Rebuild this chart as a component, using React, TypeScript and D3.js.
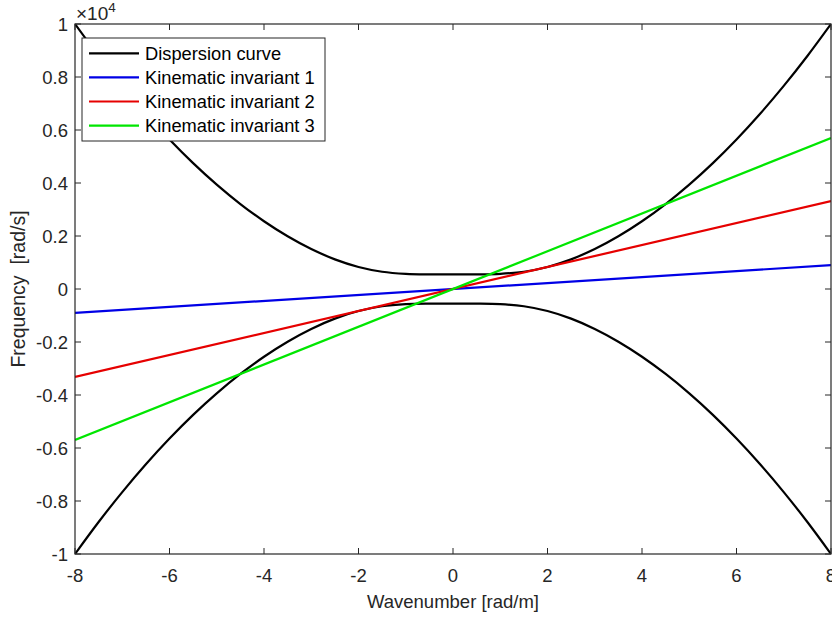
import React from "react";
import * as d3 from "d3";

// Wavenumber samples (rad/m)
const wavenumbers = [
  -8, -7.5, -7, -6.5, -6, -5.5, -5, -4.5, -4, -3.5, -3, -2.5, -2, -1.5, -1, -0.5, 0,
  0.5, 1, 1.5, 2, 2.5, 3, 3.5, 4, 4.5, 5, 5.5, 6, 6.5, 7, 7.5, 8,
];
// Dispersion curve, upper and lower branches (rad/s)
const dispersionUpper = [
  10000, 8792, 7664, 6614, 5643, 4751, 3939, 3207, 2556, 1989, 1508, 1119, 832, 652, 572, 551, 550,
  551, 572, 652, 832, 1119, 1508, 1989, 2556, 3207, 3939, 4751, 5643, 6614, 7664, 8792, 10000,
];
const dispersionLower = [
  -10000, -8792, -7664, -6614, -5643, -4751, -3939, -3207, -2556, -1989, -1508, -1119, -832, -652, -572, -551, -550,
  -551, -572, -652, -832, -1119, -1508, -1989, -2556, -3207, -3939, -4751, -5643, -6614, -7664, -8792, -10000,
];
// Kinematic invariants (straight lines through the origin)
const lineK = [-8, 8];
const invariant1 = [-900, 900];
const invariant2 = [-3320, 3320];
const invariant3 = [-5700, 5700];

const xTicks = [-8, -6, -4, -2, 0, 2, 4, 6, 8];
const yTicks = [-10000, -8000, -6000, -4000, -2000, 0, 2000, 4000, 6000, 8000, 10000];
const yTickLabels = ["-1", "-0.8", "-0.6", "-0.4", "-0.2", "0", "0.2", "0.4", "0.6", "0.8", "1"];

const legendLabels = [
  "Dispersion curve",
  "Kinematic invariant 1",
  "Kinematic invariant 2",
  "Kinematic invariant 3",
];
const legendColors = ["#000000", "#0000e6", "#e60000", "#00e600"];

const W = 832;
const H = 619;
const left = 75;
const right = 831;
const top = 24;
const bottom = 554;
const axisColor = "#262626";
const font = "'Liberation Sans', Arial, Helvetica, sans-serif";

export default function App() {
  const x = d3.scaleLinear().domain([-8, 8]).range([left, right]);
  const y = d3.scaleLinear().domain([-10000, 10000]).range([bottom, top]);

  const line = d3
    .line<[number, number]>()
    .x((d) => x(d[0]))
    .y((d) => y(d[1]))
    .curve(d3.curveCatmullRom.alpha(0.5));
  const straight = d3
    .line<[number, number]>()
    .x((d) => x(d[0]))
    .y((d) => y(d[1]));

  const up = wavenumbers.map((k, i) => [k, dispersionUpper[i]] as [number, number]);
  const low = wavenumbers.map((k, i) => [k, dispersionLower[i]] as [number, number]);
  const inv = [invariant1, invariant2, invariant3].map((vals) =>
    lineK.map((k, i) => [k, vals[i]] as [number, number])
  );

  const tickLen = 6;
  const legX = 82;
  const legY = 38;
  const legW = 243;
  const legH = 103;
  const rowH = 24.1;

  return (
    <svg
      width={W}
      height={H}
      style={{ position: "absolute", left: 0, top: 0, background: "#fff" }}
      fontFamily={font}
    >
      <rect x={0} y={0} width={W} height={H} fill="#fff" />
      <defs>
        <clipPath id="plotclip">
          <rect x={left} y={top} width={right - left} height={bottom - top} />
        </clipPath>
      </defs>

      {/* data */}
      <g clipPath="url(#plotclip)" fill="none" strokeWidth={2.2} strokeLinejoin="round">
        <path d={line(up) || ""} stroke={legendColors[0]} />
        <path d={line(low) || ""} stroke={legendColors[0]} />
        {inv.map((pts, i) => (
          <path key={i} d={straight(pts) || ""} stroke={legendColors[i + 1]} />
        ))}
      </g>

      {/* axes box */}
      <rect
        x={left}
        y={top}
        width={right - left}
        height={bottom - top}
        fill="none"
        stroke={axisColor}
        strokeWidth={1.2}
      />
      {/* ticks */}
      <g stroke={axisColor} strokeWidth={1}>
        {xTicks.map((t) => (
          <g key={"xt" + t}>
            <line x1={x(t)} x2={x(t)} y1={bottom} y2={bottom - tickLen} />
            <line x1={x(t)} x2={x(t)} y1={top} y2={top + tickLen} />
          </g>
        ))}
        {yTicks.map((t) => (
          <g key={"yt" + t}>
            <line x1={left} x2={left + tickLen} y1={y(t)} y2={y(t)} />
            <line x1={right} x2={right - tickLen} y1={y(t)} y2={y(t)} />
          </g>
        ))}
      </g>
      {/* tick labels */}
      <g fill="#262626" fontSize={18.5}>
        {xTicks.map((t) => (
          <text key={"xl" + t} x={x(t)} y={582} textAnchor="middle">
            {String(t)}
          </text>
        ))}
        {yTicks.map((t, i) => (
          <text key={"yl" + t} x={68} y={y(t) + 6.5} textAnchor="end">
            {yTickLabels[i]}
          </text>
        ))}
        <text x={76} y={20} fontSize={19}>
          ×10
          <tspan dy={-8} fontSize={13.5}>
            4
          </tspan>
        </text>
      </g>
      {/* axis titles */}
      <text x={(left + right) / 2} y={608} textAnchor="middle" fontSize={18.5} fill="#262626">
        Wavenumber [rad/m]
      </text>
      <text
        transform={`translate(25, ${(top + bottom) / 2}) rotate(-90)`}
        textAnchor="middle"
        fontSize={19.5}
        fill="#262626"
        style={{ whiteSpace: "pre" }}
      >
        {"Frequency  [rad/s]"}
      </text>

      {/* legend */}
      <rect x={legX} y={legY} width={legW} height={legH} fill="#fff" stroke={axisColor} strokeWidth={1} />
      {legendLabels.map((lab, i) => {
        const cy = legY + 15.3 + i * rowH;
        return (
          <g key={lab}>
            <line x1={89} x2={139} y1={cy} y2={cy} stroke={legendColors[i]} strokeWidth={2.2} />
            <text x={145} y={cy + 6.5} fontSize={18.3} fill="#000">
              {lab}
            </text>
          </g>
        );
      })}
    </svg>
  );
}
